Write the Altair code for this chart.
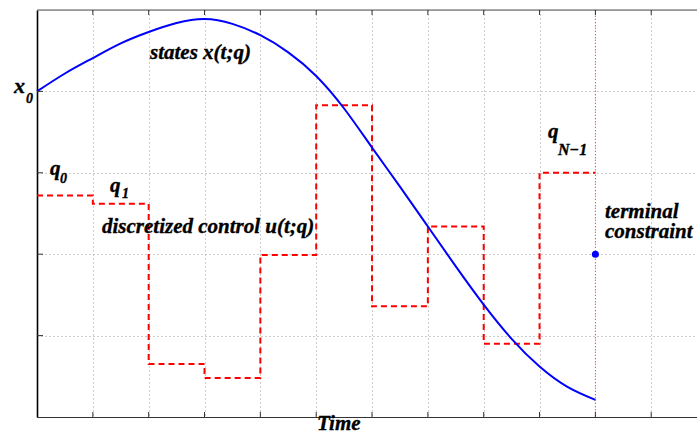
import altair as alt
import pandas as pd

# Discretization nodes and the piecewise-constant control values q_0 .. q_{N-1}
t_nodes = [0, 1, 2, 3, 4, 5, 6, 7, 8, 9, 10]
q_values = [2.72, 2.62, 0.65, 0.48, 1.99, 3.83, 1.36, 2.34, 0.90, 3.00]

# Sampled state trajectory x(t;q)
t_state = [0, 0.5, 1, 1.5, 2, 2.5, 3, 3.5, 4, 4.5, 5, 5.5, 6, 6.5, 7, 7.5, 8, 8.5, 9, 9.5, 10]
x_state = [4.00, 4.22, 4.41, 4.59, 4.73, 4.84, 4.89, 4.83, 4.69, 4.48, 4.19, 3.79, 3.31,
           2.83, 2.34, 1.85, 1.38, 0.96, 0.62, 0.37, 0.21]

# Terminal constraint
terminal_t = [10]
terminal_x = [2.0]

# Grid / tick positions
x_ticks = list(range(1, 12))
y_ticks = [1, 2, 3, 4]

W, H = 660, 407
FONT = "Liberation Serif"

xs = alt.Scale(domain=[0, 11.82], nice=False, zero=False)
ys = alt.Scale(domain=[0, 5], nice=False, zero=False)
x_axis = alt.Axis(values=x_ticks, grid=True, gridDash=[1, 3], gridColor="#9a9a9a",
                  gridWidth=1, ticks=False, labels=False, title=None,
                  domain=True, domainColor="#333333", domainWidth=1.2)
y_axis = alt.Axis(values=y_ticks, grid=True, gridDash=[1, 3], gridColor="#9a9a9a",
                  gridWidth=1, ticks=False, labels=False, title=None,
                  domain=True, domainColor="#000000", domainWidth=1.6)
X = alt.X("t:Q", scale=xs, axis=x_axis)
Y = alt.Y("v:Q", scale=ys, axis=y_axis)

# step data: repeat last value so the final interval is drawn up to t_N
control_df = pd.DataFrame({"t": t_nodes, "v": q_values + [q_values[-1]]})
state_df = pd.DataFrame({"t": t_state, "v": x_state})
term_df = pd.DataFrame({"t": terminal_t, "v": terminal_x})
xt_df = pd.DataFrame({"t": x_ticks})
yt_df = pd.DataFrame({"v": y_ticks})
one_row = pd.DataFrame({"k": [0]})

control = alt.Chart(control_df).mark_line(
    interpolate="step-after", color="#ff0000", strokeWidth=2, strokeDash=[6, 4]
).encode(x=X, y=Y)

state = alt.Chart(state_df).mark_line(
    interpolate="natural", color="#0000ff", strokeWidth=2
).encode(x=X, y=Y)

term_rule = alt.Chart(term_df).mark_rule(
    color="#ff3030", strokeWidth=1, strokeDash=[1, 2], opacity=0.8
).encode(x=X, y=alt.value(0), y2=alt.value(H))

term_dot = alt.Chart(term_df).mark_point(
    filled=True, color="#0000ff", size=50, opacity=1
).encode(x=X, y=Y)

top_line = alt.Chart(one_row).mark_rule(color="#555555", strokeWidth=1).encode(
    x=alt.value(0), x2=alt.value(W), y=alt.value(0))

bottom_ticks = alt.Chart(xt_df).mark_rule(color="#333333", strokeWidth=1).encode(
    x=X, y=alt.value(H), y2=alt.value(H - 5))
top_ticks = alt.Chart(xt_df).mark_rule(color="#333333", strokeWidth=1).encode(
    x=X, y=alt.value(0), y2=alt.value(5))
left_ticks = alt.Chart(yt_df).mark_rule(color="#333333", strokeWidth=1).encode(
    y=Y, x=alt.value(0), x2=alt.value(6))


def label(text, px, py, size=21):
    return alt.Chart(one_row).mark_text(
        text=text, font=FONT, fontStyle="italic", fontWeight="bold",
        fontSize=size, align="left", baseline="alphabetic", color="#000000",
        stroke="#000000", strokeWidth=0.35
    ).encode(x=alt.value(px), y=alt.value(py))


labels = [
    label("states x(t;q)", 113, 49),
    label("discretized control u(t;q)", 65, 223),
    label("x", -23, 83, 22),
    label("0", -11, 93, 14),
    label("q", 13, 165),
    label("0", 23, 173, 14),
    label("q", 73, 182),
    label("1", 85, 188, 14),
    label("q", 511, 128),
    label("N\u22121", 521, 145, 16),
    label("terminal", 568, 208),
    label("constraint", 568, 228),
    label("Time", 280, 420),
]

chart = alt.layer(
    control, state, term_rule, term_dot, top_line, bottom_ticks, top_ticks, left_ticks,
    *labels
).properties(
    width=W, height=H,
    padding={"left": 37, "top": 10, "right": 0, "bottom": 17},
    autosize="none",
).configure_view(stroke=None).configure(background="white")

chart.save("out.html", embed_options={"renderer": "svg", "actions": False})
